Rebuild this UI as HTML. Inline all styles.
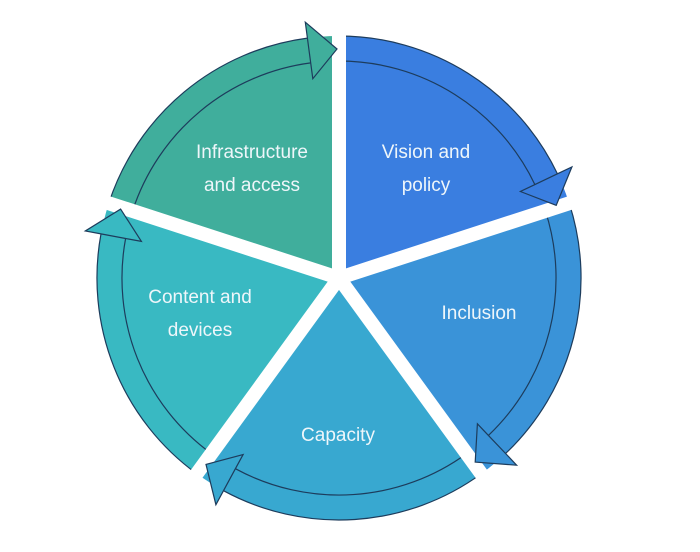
<!DOCTYPE html>
<html><head><meta charset="utf-8"><style>
html,body{margin:0;padding:0;background:#fff;}
svg{display:block;}
text{font-family:"Liberation Sans",sans-serif;font-size:19px;fill:#eef6fa;text-anchor:middle;}
</style></head><body>
<svg width="700" height="552" viewBox="0 0 700 552">
<g transform="translate(-1,-2)">
<!-- wedges -->
<path d="M340,280 L340,38 A242,242 0 0 1 570.2,205.2 Z" fill="#3a7ee0"/>
<path d="M340,280 L570.2,205.2 A242,242 0 0 1 482.2,475.8 Z" fill="#3a93d8"/>
<path d="M340,280 L482.2,475.8 A242,242 0 0 1 197.8,475.8 Z" fill="#38a8d0"/>
<path d="M340,280 L197.8,475.8 A242,242 0 0 1 109.8,205.2 Z" fill="#39b9c2"/>
<path d="M340,280 L109.8,205.2 A242,242 0 0 1 340,38 Z" fill="#40ae9c"/>
<!-- band lines -->
<g fill="none" stroke="#1d3c5c" stroke-width="1.2">
<path d="M340,38 A242,242 0 0 1 558.4,175.8"/><path d="M340,63 A217,217 0 0 1 535.9,186.6"/>
<path d="M570.2,205.2 A242,242 0 0 1 506.6,455.5"/><path d="M546.4,212.9 A217,217 0 0 1 489.4,437.4"/>
<path d="M482.2,475.8 A242,242 0 0 1 224.5,492.7"/><path d="M467.6,455.6 A217,217 0 0 1 236.4,470.7"/>
<path d="M197.8,475.8 A242,242 0 0 1 102.0,235.9"/><path d="M212.4,455.6 A217,217 0 0 1 126.6,240.5"/>
<path d="M109.8,205.2 A242,242 0 0 1 308.4,40.1"/><path d="M133.6,212.9 A217,217 0 0 1 311.7,64.9"/>
</g>
<!-- gaps -->
<g stroke="#fff" stroke-width="14" stroke-linecap="butt">
<line x1="340" y1="280" x2="340" y2="10"/>
<line x1="340" y1="280" x2="596.8" y2="196.6"/>
<line x1="340" y1="280" x2="498.7" y2="498.4"/>
<line x1="340" y1="280" x2="181.3" y2="498.4"/>
<line x1="340" y1="280" x2="83.2" y2="196.6"/>
</g>
<circle cx="340" cy="280" r="8" fill="#fff"/>
<!-- arrowheads -->
<g stroke="#1d3c5c" stroke-width="1.2" stroke-linejoin="miter">
<polygon points="558.4,175.8 572.9,168.9 557.2,207.3 521.4,193.5 535.9,186.6" fill="#3a7ee0"/>
<polygon points="506.6,455.5 517.6,467.2 476.2,464.1 478.4,425.8 489.4,437.4" fill="#3a93d8"/>
<polygon points="224.5,492.7 216.9,506.7 207.0,466.4 244.1,456.6 236.4,470.7" fill="#38a8d0"/>
<polygon points="102.0,235.9 86.3,233.0 121.6,211.1 142.4,243.4 126.6,240.5" fill="#39b9c2"/>
<polygon points="308.4,40.1 306.3,24.2 338.0,51.0 313.8,80.7 311.7,64.9" fill="#40ae9c"/>
</g>
<!-- cover the band inner seam inside arrowheads -->
</g>
<text x="252" y="158">Infrastructure</text>
<text x="252" y="191">and access</text>
<text x="426" y="158">Vision and</text>
<text x="426" y="191">policy</text>
<text x="479" y="319">Inclusion</text>
<text x="200" y="303">Content and</text>
<text x="200" y="336">devices</text>
<text x="338" y="441">Capacity</text>
</svg>
</body></html>
